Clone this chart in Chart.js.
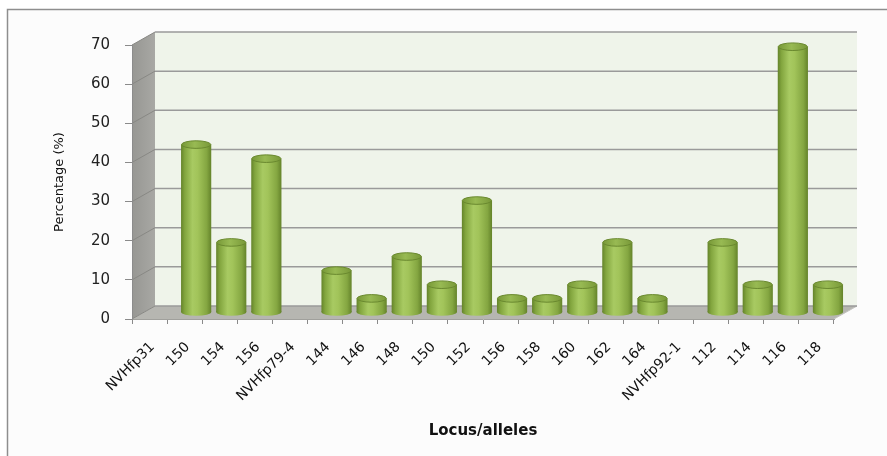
<!DOCTYPE html>
<html>
<head>
<meta charset="utf-8">
<script src="https://cdn.jsdelivr.net/npm/chart.js@4"></script>
<style>
  html, body { margin: 0; padding: 0; background: #ffffff; }
  canvas { display: block; }
</style>
</head>
<body>
<canvas id="chart" width="887" height="456"></canvas>
<script>
// allele frequencies per locus (percent of scored samples)
const categories = ['NVHfp31', '150', '154', '156', 'NVHfp79-4', '144', '146', '148', '150', '152',
  '156', '158', '160', '162', '164', 'NVHfp92-1', '112', '114', '116', '118'];
const percentages = [null, 42.9, 17.9, 39.3, null, 10.7, 3.6, 14.3, 7.1, 28.6,
  3.6, 3.6, 7.1, 17.9, 3.6, null, 17.9, 7.1, 67.9, 7.1];
const yTicks = [0, 10, 20, 30, 40, 50, 60, 70];

// depth of the 3d box, bars sit half way in
const DX = 23, DY = 13;
const CAP = 3.8;
const BAR_PCT = 0.86;

function bodyGradient(ctx, x, w) {
  if (!isFinite(x) || !isFinite(w)) return '#94b651';
  const g = ctx.createLinearGradient(x - w / 2, 0, x + w / 2, 0);
  g.addColorStop(0, '#64832a');
  g.addColorStop(0.12, '#82a53e');
  g.addColorStop(0.38, '#a8ca62');
  g.addColorStop(0.55, '#a2c45a');
  g.addColorStop(0.85, '#84a641');
  g.addColorStop(1, '#64832a');
  return g;
}

function capGradient(ctx, x, w) {
  const g = ctx.createLinearGradient(x - w / 2, 0, x + w / 2, 0);
  g.addColorStop(0, '#769736');
  g.addColorStop(0.45, '#98ba53');
  g.addColorStop(1, '#789838');
  return g;
}

const frame3d = {
  id: 'frame3d',
  beforeDraw(chart) {
    const { ctx, scales: { x, y } } = chart;
    const l = x.left, r = x.right;
    const b = y.getPixelForValue(0), t = y.getPixelForValue(70);
    ctx.save();

    // outer chart frame
    ctx.fillStyle = '#fcfcfc';
    ctx.fillRect(7, 9, chart.width - 7, chart.height - 9);
    ctx.strokeStyle = '#8e8e8e';
    ctx.lineWidth = 1.5;
    ctx.beginPath();
    ctx.moveTo(7.5, chart.height);
    ctx.lineTo(7.5, 9.5);
    ctx.lineTo(chart.width, 9.5);
    ctx.stroke();

    // back wall
    ctx.fillStyle = '#eff4ea';
    ctx.fillRect(l + DX, t - DY, r - l, b - t);

    // side wall
    const side = ctx.createLinearGradient(l, 0, l + DX, 0);
    side.addColorStop(0, '#979793');
    side.addColorStop(1, '#a8a8a4');
    ctx.fillStyle = side;
    ctx.beginPath();
    ctx.moveTo(l, b);
    ctx.lineTo(l, t);
    ctx.lineTo(l + DX, t - DY);
    ctx.lineTo(l + DX, b - DY);
    ctx.closePath();
    ctx.fill();

    // floor
    ctx.fillStyle = '#b6b6b1';
    ctx.beginPath();
    ctx.moveTo(l, b);
    ctx.lineTo(r, b);
    ctx.lineTo(r + DX, b - DY);
    ctx.lineTo(l + DX, b - DY);
    ctx.closePath();
    ctx.fill();
    ctx.strokeStyle = '#c4c4c0';
    ctx.lineWidth = 1;
    ctx.beginPath();
    ctx.moveTo(r, b);
    ctx.lineTo(r + DX, b - DY);
    ctx.stroke();

    // gridlines on the back wall and the side wall
    yTicks.forEach(v => {
      const py = y.getPixelForValue(v);
      ctx.strokeStyle = '#9a9a9a';
      ctx.lineWidth = 1.5;
      ctx.beginPath();
      ctx.moveTo(l + DX, py - DY);
      ctx.lineTo(r + DX, py - DY);
      ctx.stroke();
      ctx.strokeStyle = '#888884';
      ctx.lineWidth = 1;
      ctx.beginPath();
      ctx.moveTo(l, py);
      ctx.lineTo(l + DX, py - DY);
      ctx.stroke();
    });
    ctx.restore();
  }
};

const cylinders = {
  id: 'cylinders',
  beforeDatasetsDraw(chart) {
    const ctx = chart.ctx;
    ctx.save();
    ctx.translate(DX / 2, -DY / 2);
    chart.getDatasetMeta(0).data.forEach((bar, i) => {
      if (percentages[i] == null) return;
      const { x, base, width } = bar.getProps(['x', 'base', 'width'], true);
      ctx.fillStyle = bodyGradient(ctx, x, width);
      ctx.beginPath();
      ctx.ellipse(x, base, width / 2, CAP, 0, 0, Math.PI * 2);
      ctx.fill();
    });
  },
  afterDatasetsDraw(chart) {
    const ctx = chart.ctx;
    chart.getDatasetMeta(0).data.forEach((bar, i) => {
      if (percentages[i] == null) return;
      const { x, y, width } = bar.getProps(['x', 'y', 'width'], true);
      ctx.fillStyle = capGradient(ctx, x, width);
      ctx.strokeStyle = '#6a892f';
      ctx.lineWidth = 1;
      ctx.beginPath();
      ctx.ellipse(x, y, width / 2 - 0.5, CAP, 0, 0, Math.PI * 2);
      ctx.fill();
      ctx.stroke();
    });
    ctx.restore();
  }
};

new Chart(document.getElementById('chart'), {
  type: 'bar',
  data: {
    labels: categories,
    datasets: [{
      data: percentages,
      backgroundColor(c) {
        const xs = c.chart.scales.x;
        if (!xs) return '#94b651';
        const w = xs.width / categories.length * BAR_PCT;
        return bodyGradient(c.chart.ctx, xs.getPixelForValue(c.dataIndex), w);
      },
      borderWidth: 0,
      barPercentage: BAR_PCT,
      categoryPercentage: 1,
      clip: false
    }]
  },
  options: {
    responsive: false,
    devicePixelRatio: 1,
    animation: false,
    layout: { padding: { left: 8, right: 53, top: 45, bottom: 8 } },
    plugins: {
      legend: { display: false },
      tooltip: { enabled: false }
    },
    scales: {
      x: {
        afterFit(s) { s.height = 129; },
        grid: { drawOnChartArea: false, drawTicks: true, tickLength: 5, color: '#8a8a8a', offset: true },
        border: { color: '#a0a09c' },
        ticks: {
          autoSkip: false,
          minRotation: 45,
          maxRotation: 45,
          padding: 15,
          labelOffset: 3,
          color: '#111',
          font: { family: 'DejaVu Sans', size: 14 }
        },
        title: {
          display: true,
          text: 'Locus/alleles',
          color: '#111',
          font: { family: 'DejaVu Sans', size: 15, weight: 'bold' },
          padding: { top: 0, bottom: 8 }
        }
      },
      y: {
        min: 0,
        max: 70,
        afterFit(s) { s.width = 124; },
        afterBuildTicks(s) { s.ticks = yTicks.map(v => ({ value: v })); },
        grid: { drawOnChartArea: false, drawTicks: true, tickLength: 7, color: '#8a8a8a' },
        border: { color: '#8c8c8c' },
        ticks: {
          padding: 15,
          color: '#222',
          font: { family: 'DejaVu Sans', size: 15 }
        },
        title: {
          display: true,
          text: 'Percentage (%)',
          color: '#111',
          font: { family: 'DejaVu Sans', size: 13 },
          padding: { top: 44, bottom: 0 }
        }
      }
    }
  },
  plugins: [frame3d, cylinders]
});
</script>
</body>
</html>
